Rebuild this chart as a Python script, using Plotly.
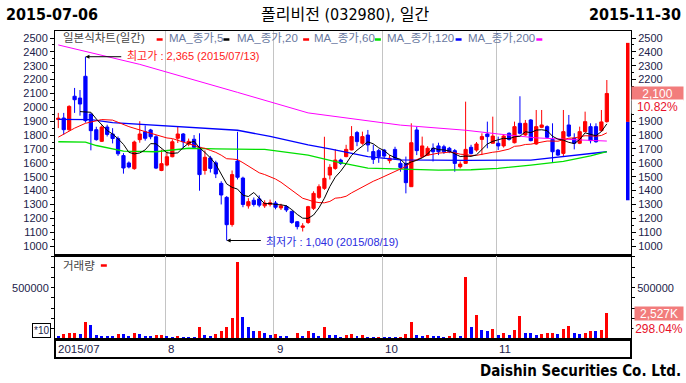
import plotly.graph_objects as go
import pandas as pd

# ---------------- data ----------------
holidays = ["2015-08-14", "2015-09-28", "2015-09-29", "2015-10-09"]
dates = [d for d in pd.bdate_range("2015-07-06", "2015-11-30") if d.strftime("%Y-%m-%d") not in holidays]

open_ = [1912, 1923, 1839, 2080, 2067, 2224, 1952, 1839, 1755, 1858,
         1808, 1775, 1652, 1599, 1558, 1767, 1824, 1837, 1788, 1545,
         1584, 1644, 1777, 1808, 1736, 1770, 1712, 1545, 1635, 1600,
         1452, 1351, 1155, 1613, 1490, 1290, 1330, 1340, 1290, 1300,
         1310, 1275, 1285, 1250, 1175, 1135, 1170, 1272, 1351, 1416,
         1512, 1560, 1620, 1645, 1693, 1818, 1741, 1800, 1681, 1688,
         1692, 1616, 1697, 1596, 1596, 1428, 1837, 1645, 1656, 1705,
         1722, 1716, 1705, 1688, 1572, 1596, 1712, 1692, 1769, 1808,
         1741, 1741, 1722, 1813, 1745, 1885, 1801, 1909, 1736, 1856,
         1861, 1769, 1692, 1668, 1873, 1777, 1741, 1825, 1861, 1861,
         1832, 1897]
high = [1960, 1960, 2015, 2140, 2125, 2365, 1955, 1860, 1870, 1875,
        1850, 1790, 1670, 1610, 1760, 1900, 1870, 1845, 1800, 1695,
        1680, 1770, 1860, 1815, 1775, 1800, 1813, 1690, 1650, 1615,
        1467, 1360, 1545, 1824, 1500, 1345, 1350, 1365, 1330, 1335,
        1325, 1305, 1295, 1255, 1180, 1165, 1290, 1395, 1445, 1788,
        1590, 1698, 1630, 1730, 1865, 1830, 1825, 1837, 1730, 1700,
        1700, 1656, 1716, 1620, 1645, 1885, 1860, 1789, 1720, 1740,
        1745, 1730, 1715, 1700, 1610, 2041, 1730, 1750, 1813, 1897,
        1933, 1789, 1800, 1820, 1897, 2080, 1909, 1915, 1981, 1981,
        1870, 1885, 1700, 1981, 1945, 1813, 1861, 1969, 1885, 1885,
        1981, 2197]
low = [1850, 1803, 1830, 1960, 1940, 1890, 1690, 1760, 1750, 1790,
       1740, 1650, 1522, 1560, 1550, 1745, 1760, 1770, 1555, 1540,
       1575, 1640, 1743, 1700, 1720, 1705, 1399, 1515, 1530, 1490,
       1300, 1040, 1140, 1480, 1280, 1270, 1285, 1280, 1275, 1285,
       1265, 1260, 1245, 1160, 1120, 1105, 1160, 1260, 1340, 1405,
       1480, 1550, 1585, 1640, 1690, 1720, 1730, 1680, 1592, 1600,
       1630, 1596, 1620, 1536, 1380, 1428, 1656, 1645, 1650, 1610,
       1656, 1665, 1670, 1536, 1560, 1596, 1660, 1680, 1656, 1705,
       1741, 1692, 1710, 1760, 1740, 1805, 1795, 1755, 1730, 1850,
       1775, 1600, 1650, 1645, 1785, 1697, 1735, 1820, 1740, 1745,
       1825, 1890]
close = [1922, 1839, 2007, 2055, 2024, 1904, 1832, 1767, 1858, 1805,
         1775, 1665, 1563, 1570, 1750, 1808, 1777, 1788, 1562, 1594,
         1644, 1752, 1808, 1752, 1755, 1712, 1515, 1640, 1560, 1520,
         1368, 1154, 1515, 1496, 1300, 1320, 1300, 1295, 1310, 1312,
         1280, 1290, 1260, 1170, 1140, 1145, 1284, 1380, 1428, 1488,
         1568, 1620, 1596, 1697, 1789, 1753, 1789, 1729, 1625, 1645,
         1649, 1633, 1633, 1567, 1457, 1745, 1688, 1722, 1705, 1680,
         1680, 1680, 1680, 1596, 1591, 1697, 1668, 1736, 1789, 1789,
         1793, 1722, 1793, 1769, 1861, 1813, 1885, 1760, 1861, 1873,
         1784, 1680, 1656, 1825, 1793, 1741, 1825, 1897, 1760, 1752,
         1895, 2100]
volume_k = [32, 52, 55, 62, 52, 169, 140, 42, 32, 30,
            28, 52, 48, 26, 62, 52, 32, 30, 36, 42,
            32, 23, 32, 19, 13, 12, 120, 42, 32, 52,
            75, 120, 208, 747, 218, 120, 75, 81, 62, 42,
            52, 32, 30, 8, 62, 32, 81, 62, 32, 120,
            42, 40, 23, 42, 52, 32, 42, 23, 21, 23,
            13, 12, 11, 23, 52, 162, 42, 32, 35, 32,
            30, 23, 32, 62, 32, 601, 114, 237, 91, 75,
            101, 42, 62, 42, 91, 227, 62, 60, 42, 52,
            54, 56, 52, 101, 127, 62, 52, 62, 81, 75,
            84.8, 252.7]

# moving averages (index, value)
ma20_early_i = [0, 3, 5, 8, 10, 13, 16]
ma20_early_v = [1785, 1850, 1885, 1912, 1908, 1861, 1825]
ma60_i = [0, 5, 7, 12, 18, 24, 29, 38, 46, 51, 57, 63, 70, 76, 81, 87, 93, 98, 101]
ma60_v = [1752, 1750, 1725, 1685, 1680, 1705, 1700, 1697, 1656, 1608, 1562, 1558, 1548, 1550, 1560, 1584, 1610, 1650, 1680]
ma120_i = [0, 6, 10, 20, 28, 33, 39, 44, 46, 50, 57, 63, 75, 87, 93, 101]
ma120_v = [1914, 1912, 1890, 1866, 1850, 1835, 1790, 1745, 1730, 1700, 1644, 1622, 1618, 1620, 1644, 1680]
ma200_i = [0, 15, 33, 46, 63, 75, 81, 88, 96, 101]
ma200_v = [2450, 2310, 2108, 1960, 1872, 1835, 1808, 1780, 1765, 1757]

limit_up = 2465
limit_down = 1330
high_label = "최고가 : 2,365 (2015/07/13)"
low_label = "최저가 : 1,040 (2015/08/19)"
price_tag = "2,100"
price_pct = "10.82%"
vol_tag = "2,527K"
vol_pct = "298.04%"
title_text = "폴리비전 (032980), 일간"
legend_labels = ["일본식차트(일간)", "MA_종가,5", "MA_종가,20", "MA_종가,60", "MA_종가,120", "MA_종가,200"]
month_labels = ["2015/07", "8", "9", "10", "11"]

# ---------------- derived ----------------
n = len(close)
x = list(range(n))
volume = [v * 1000 for v in volume_k]
cs = pd.Series(close, dtype=float)
ma5 = cs.rolling(5).mean()
ma20_calc = cs.rolling(20).mean()
ma20_x = ma20_early_i + list(range(19, n))
ma20_y = ma20_early_v + list(ma20_calc[19:])

vol_colors = ["#0000ff"]
for i in range(1, n):
    vol_colors.append("#ff0000" if volume[i] > volume[i - 1] else "#0000ff")

month_first = []
for i, d in enumerate(dates):
    if i > 0 and d.month != dates[i - 1].month:
        month_first.append(i)
grid_x = [m - 0.33 for m in month_first]

# ---------------- geometry ----------------
W, H = 686, 383
L, R, T, B = 54, 632, 31, 339
PX0, DX = 57.3, 5.45


def px2x(px):
    return (px - PX0) / DX


def paper_x(px):
    return (px - L) / (R - L)


def paper_y(py):
    return (B - py) / (B - T)


split = paper_y(256)
x_range = [px2x(L), px2x(R)]
tick_col = "#22224a"
axis_font = dict(family="Liberation Sans, Arial, sans-serif", size=11, color=tick_col)
kfont = "Liberation Sans, Noto Sans CJK KR, sans-serif"
nfont = "Liberation Sans Narrow, DejaVu Sans Condensed, Noto Sans CJK KR, sans-serif"

fig = go.Figure()

fig.add_trace(go.Scatter(x=ma200_i, y=ma200_v, mode="lines", line=dict(color="#ff00ff", width=1), hoverinfo="skip"))
fig.add_trace(go.Scatter(x=ma120_i, y=ma120_v, mode="lines", line=dict(color="#0000ff", width=1.3), hoverinfo="skip"))
fig.add_trace(go.Scatter(x=ma60_i, y=ma60_v, mode="lines", line=dict(color="#00e000", width=1.3), hoverinfo="skip"))

fig.add_trace(go.Candlestick(
    x=x, open=open_, high=high, low=low, close=close,
    increasing=dict(line=dict(color="#ff0000", width=1), fillcolor="#ff0000"),
    decreasing=dict(line=dict(color="#0000ff", width=1), fillcolor="#0000ff"),
    whiskerwidth=0, hoverinfo="skip", xaxis="x", yaxis="y"))

fig.add_trace(go.Scatter(x=ma20_x, y=ma20_y, mode="lines", line=dict(color="#ff0000", width=1), hoverinfo="skip"))
fig.add_trace(go.Scatter(x=x, y=ma5, mode="lines", line=dict(color="#000000", width=1), hoverinfo="skip"))

fig.add_trace(go.Bar(x=x, y=volume, marker=dict(color=vol_colors, line=dict(width=0)), width=0.55,
                     xaxis="x2", yaxis="y2", hoverinfo="skip"))

price_ticks = list(range(1000, 2501, 100))
left_text = [str(p) for p in price_ticks]
# on the right, the 2100 / 2000 labels sit under the price tags
right_text = ["" if p in (2000, 2100) else str(p) for p in price_ticks]
vol_ticks = list(range(100000, 800001, 100000))
vol_text = ["500000" if v == 500000 else "" for v in vol_ticks]

yax_common = dict(range=[928.3, 2550.5], tickvals=price_ticks, ticks="outside", ticklen=4,
                  tickcolor="#000000", tickfont=axis_font, showgrid=False, zeroline=False,
                  minor=dict(tickvals=[p + 50 for p in price_ticks[:-1]], ticks="outside", ticklen=2, tickcolor="#000000"))
vax_common = dict(range=[0, 809000], tickvals=vol_ticks, ticktext=vol_text, ticks="outside", ticklen=3,
                  tickcolor="#000000", tickfont=axis_font, showgrid=False, zeroline=False)

fig.update_layout(
    width=W, height=H,
    margin=dict(l=L, r=W - R, t=T, b=H - B),
    paper_bgcolor="white", plot_bgcolor="white",
    showlegend=False, hovermode=False, boxgap=0.15, bargap=0,
    xaxis=dict(domain=[0, 1], range=x_range, anchor="y", tickvals=grid_x, showticklabels=False,
               ticks="", showgrid=True, gridcolor="#c4c4c4", gridwidth=1, zeroline=False,
               showline=True, linecolor="#000000", linewidth=1, mirror=True,
               rangeslider=dict(visible=False)),
    yaxis=dict(domain=[split, 1], anchor="x", showline=True, linecolor="#000000", linewidth=1,
               mirror=True, ticktext=left_text, **yax_common),
    yaxis3=dict(overlaying="y", side="right", anchor="x", showline=False, ticktext=right_text, **yax_common),
    xaxis2=dict(domain=[0, 1], range=x_range, anchor="y2", matches="x", tickvals=grid_x,
                showticklabels=False, ticks="", showgrid=True, gridcolor="#c4c4c4", gridwidth=1,
                zeroline=False, showline=True, linecolor="#000000", linewidth=2, mirror=True),
    yaxis2=dict(domain=[0, split], anchor="x2", showline=True, linecolor="#000000", linewidth=1,
                mirror=True, **vax_common),
    yaxis4=dict(overlaying="y2", side="right", anchor="x2", showline=False, **vax_common),
)
fig.add_trace(go.Scatter(x=[None], y=[None], xaxis="x", yaxis="y3", hoverinfo="skip"))
fig.add_trace(go.Scatter(x=[None], y=[None], xaxis="x2", yaxis="y4", hoverinfo="skip"))

shapes = []
shapes.append(dict(type="rect", xref="paper", yref="paper", x0=0, x1=1, y0=paper_y(358), y1=paper_y(339),
                   line=dict(color="#000000", width=2), fillcolor="rgba(0,0,0,0)"))
shapes.append(dict(type="rect", xref="x", yref="y", x0=px2x(627), x1=px2x(630.5), y0=close[-2], y1=limit_up,
                   line=dict(width=0), fillcolor="#ff0000"))
shapes.append(dict(type="rect", xref="x", yref="y", x0=px2x(627), x1=px2x(630.5), y0=limit_down, y1=close[-2],
                   line=dict(width=0), fillcolor="#0000ff"))
dash_specs = [(156, "#ff0000"), (223, "#000000"), (303, "#ff0000"), (375, "#00e000"), (456, "#0000ff"), (537, "#ff00ff")]
for px, col in dash_specs:
    shapes.append(dict(type="line", xref="paper", yref="paper", x0=paper_x(px), x1=paper_x(px + 6),
                       y0=paper_y(39.5), y1=paper_y(39.5), line=dict(color=col, width=2.5)))
shapes.append(dict(type="line", xref="paper", yref="paper", x0=paper_x(100), x1=paper_x(106),
                   y0=paper_y(265.5), y1=paper_y(265.5), line=dict(color="#ff0000", width=2.5)))
fig.update_layout(shapes=shapes)

ann = []


def text(px, py, s, size=11.5, color="#000000", anchor="left", family=kfont, weight="normal", **kw):
    ann.append(dict(xref="paper", yref="paper", x=paper_x(px), y=paper_y(py), text=s, showarrow=False,
                    xanchor=anchor, yanchor="middle", font=dict(family=family, size=size, color=color, weight=weight), **kw))


text(3, 15, "2015-07-06", size=16, family=nfont, weight="bold")
text(345, 15, title_text, size=16, family=nfont, anchor="center")
text(684, 15, "2015-11-30", size=16, family=nfont, weight="bold", anchor="right")
text(684, 371, "Daishin Securities Co. Ltd.", size=15, family=nfont, weight="bold", anchor="right")

leg_x = [60, 166, 235, 312, 385, 466]
leg_col = ["#444444", "#6878a0", "#6878a0", "#6878a0", "#6878a0", "#6878a0"]
for px, s, c in zip(leg_x, legend_labels, leg_col):
    text(px, 38, s, size=11.5, color=c)
text(60, 266, "거래량", size=11.5, color="#444444")

imax = high.index(max(high))
imin = low.index(min(low))
ann.append(dict(xref="x", yref="y", x=imax, y=high[imax], axref="x", ayref="y", ax=px2x(122), ay=high[imax],
                text="", showarrow=True, arrowhead=2, arrowsize=0.8, arrowwidth=1, arrowcolor="#000000"))
text(124, 55.5, high_label, size=11, color="#ff1a1a")
ann.append(dict(xref="x", yref="y", x=imin, y=low[imin], axref="x", ayref="y", ax=px2x(262), ay=low[imin],
                text="", showarrow=True, arrowhead=2, arrowsize=0.8, arrowwidth=1, arrowcolor="#000000"))
text(264, 242, low_label, size=11, color="#2a2ae0")

ann.append(dict(xref="paper", yref="y", x=paper_x(659), y=close[-1], text=price_tag, showarrow=False,
                xanchor="center", yanchor="middle", width=51, height=13, bgcolor="#f27c7c", borderpad=0,
                font=dict(family="Liberation Sans, Arial", size=12, color="#ffffff")))
ann.append(dict(xref="paper", yref="paper", x=paper_x(659), y=paper_y(106), text=price_pct, showarrow=False,
                xanchor="center", yanchor="middle", width=51, height=13, bgcolor="#ffffff", borderpad=0,
                font=dict(family="Liberation Sans, Arial", size=12, color="#e8102a")))
ann.append(dict(xref="paper", yref="y2", x=paper_x(660), y=volume[-1], text=vol_tag, showarrow=False,
                xanchor="center", yanchor="middle", width=48, height=13, bgcolor="#f27c7c", borderpad=0,
                font=dict(family="Liberation Sans, Arial", size=12, color="#ffffff")))
ann.append(dict(xref="paper", yref="paper", x=paper_x(660), y=paper_y(328), text=vol_pct, showarrow=False,
                xanchor="center", yanchor="middle", width=50, height=13, bgcolor="#ffffff", borderpad=0,
                font=dict(family="Liberation Sans, Arial", size=12, color="#e8102a")))
ann.append(dict(xref="paper", yref="paper", x=paper_x(40.5), y=paper_y(330), text="*10", showarrow=False,
                xanchor="center", yanchor="middle", bordercolor="#000000", borderwidth=1, borderpad=1,
                bgcolor="#ffffff", font=dict(family="Liberation Sans, Arial", size=10, color=tick_col)))

month_px = [55.5] + [PX0 + DX * g + 1 for g in grid_x]
for px, s in zip(month_px, month_labels):
    text(px, 349, s, size=11.5, color=tick_col, family="Liberation Sans, Arial")

fig.update_layout(annotations=ann)
fig.write_html("out.html", config={"displayModeBar": False})
